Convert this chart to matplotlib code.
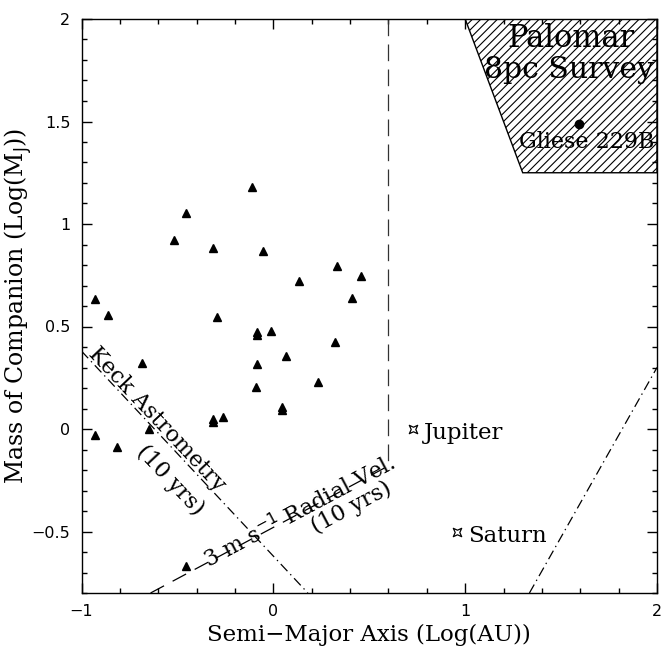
import matplotlib
matplotlib.use("Agg")
import matplotlib.pyplot as plt
from matplotlib.path import Path
from matplotlib.patches import Polygon
from matplotlib.ticker import MultipleLocator

plt.rcParams['lines.scale_dashes'] = False
plt.rcParams['hatch.linewidth'] = 0.8

# ---------------- data ----------------
planet_loga = [-0.93, -0.864, -0.683, -0.93, -0.817, -0.65, -0.516, -0.455, -0.316, -0.295,
               -0.313, -0.313, -0.261, -0.113, -0.087, -0.087, -0.084, -0.09, -0.053, 0.33,
               0.456, 0.132, 0.411, -0.0125, 0.323, 0.067, 0.231, 0.046, 0.046, -0.456]
planet_logm = [0.636, 0.557, 0.322, -0.03, -0.087, 0.0, 0.923, 1.052, 0.881, 0.546,
               0.05, 0.035, 0.057, 1.18, 0.472, 0.457, 0.319, 0.204, 0.866, 0.794,
               0.745, 0.724, 0.641, 0.48, 0.423, 0.356, 0.230, 0.108, 0.095, -0.667]

solar_names = ["Jupiter", "Saturn"]
solar_loga = [0.73, 0.96]
solar_logm = [0.0, -0.50]

gliese_loga = [1.594]
gliese_logm = [1.49]

palomar_x = [1.0, 1.3, 2.0, 2.0]
palomar_y = [2.0, 1.25, 1.25, 2.0]

keck_x = [-1.0, 0.18]
keck_y = [0.38, -0.80]

rv_x = [-0.64, 0.60]
rv_y = [-0.80, -0.18]

rv_vert_x = [0.60, 0.60]
rv_vert_y = [2.0, -0.18]

right_x = [1.335, 2.0]
right_y = [-0.80, 0.30]

xlim = (-1, 2)
ylim = (-0.8, 2)

# ---------------- figure ----------------
W, H = 661, 651
fig = plt.figure(figsize=(W / 100, H / 100), dpi=100)
ax = fig.add_axes([81.5 / W, 1 - 593 / H, (657 - 81.5) / W, (593 - 19) / H])
ax.set_xlim(*xlim)
ax.set_ylim(*ylim)

serif = 'DejaVu Serif'

# Palomar region
poly = Polygon(list(zip(palomar_x, palomar_y)), closed=True, facecolor='white',
               edgecolor='black', hatch='////', linewidth=1.0, zorder=1)
ax.add_patch(poly)

# lines
ax.plot(keck_x, keck_y, color='black', lw=0.9, linestyle=(0, (7, 3, 1, 3)), zorder=2)
ax.plot(rv_x, rv_y, color='black', lw=0.9, linestyle=(0, (11, 7)), zorder=2)
ax.plot(rv_vert_x, rv_vert_y, color='#333333', lw=0.9, linestyle=(0, (12, 6)), zorder=2)
ax.plot(right_x, right_y, color='black', lw=0.9, linestyle=(0, (7, 3, 1, 3)), zorder=2)

# planets
ax.plot(planet_loga, planet_logm, linestyle='none', marker='^', color='black', ms=6, zorder=3)

# solar system marker (like a "¤")
r = 0.55
verts = [(-1, -1), (0, -r), (1, -1), (r, 0), (1, 1), (0, r), (-1, 1), (-r, 0), (-1, -1)]
codes = [Path.MOVETO] + [Path.LINETO] * 7 + [Path.CLOSEPOLY]
cur = Path(verts, codes)
ax.plot(solar_loga, solar_logm, linestyle='none', marker=cur, ms=6, mfc='white',
        mec='black', mew=0.9, zorder=3)
for name, xx, yy in zip(solar_names, solar_loga, solar_logm):
    ax.text(xx + 0.055, yy - 0.02, name, family=serif, fontsize=16.5, ha='left', va='center')

ax.plot(gliese_loga, gliese_logm, linestyle='none', marker='o', color='black', ms=6, zorder=3)

# region labels
ax.text(1.551, 1.907, "Palomar", family=serif, fontsize=22, ha='center', va='center')
ax.text(1.097, 1.75, "8pc Survey", family=serif, fontsize=21.5, ha='left', va='center')
ax.text(1.28, 1.40, "Gliese 229B", family=serif, fontsize=16, ha='left', va='center')

ang_keck = -46.75
ang_rv = 28.0
ax.text(-0.606, 0.049, "Keck Astrometry", family=serif, fontsize=16, rotation=ang_keck,
        rotation_mode='anchor', ha='center', va='center')
ax.text(-0.539, -0.25, "(10 yrs)", family=serif, fontsize=16, rotation=ang_keck,
        rotation_mode='anchor', ha='center', va='center')
ax.text(0.139, -0.402, "3 m s$^{-1}$ Radial Vel.", family=serif, fontsize=16, rotation=ang_rv,
        rotation_mode='anchor', ha='center', va='center')
ax.text(0.405, -0.382, "(10 yrs)", family=serif, fontsize=16, rotation=ang_rv,
        rotation_mode='anchor', ha='center', va='center')

# axes styling
ax.xaxis.set_major_locator(MultipleLocator(1))
ax.xaxis.set_minor_locator(MultipleLocator(0.2))
ax.yaxis.set_major_locator(MultipleLocator(0.5))
ax.yaxis.set_minor_locator(MultipleLocator(0.1))
ax.tick_params(which='both', direction='in', top=True, right=True, width=1.0)
ax.tick_params(which='major', length=7.5, labelsize=11.5, pad=8)
ax.tick_params(which='minor', length=3.8)
for sp in ax.spines.values():
    sp.set_linewidth(1.0)

def fmt(v, pos):
    s = ('%g' % v)
    return s.replace('-', '\u2212')
ax.xaxis.set_major_formatter(fmt)
ax.yaxis.set_major_formatter(fmt)

ax.set_xlabel("Semi\u2212Major Axis (Log(AU))", family=serif, fontsize=16.5)
ax.set_ylabel("Mass of Companion (Log(M$_\\mathrm{J}$))", family=serif, fontsize=17)
ax.xaxis.set_label_coords(0.5, -0.054)
ax.yaxis.set_label_coords(-0.082, 0.5)

fig.savefig("out.png", dpi=100)
